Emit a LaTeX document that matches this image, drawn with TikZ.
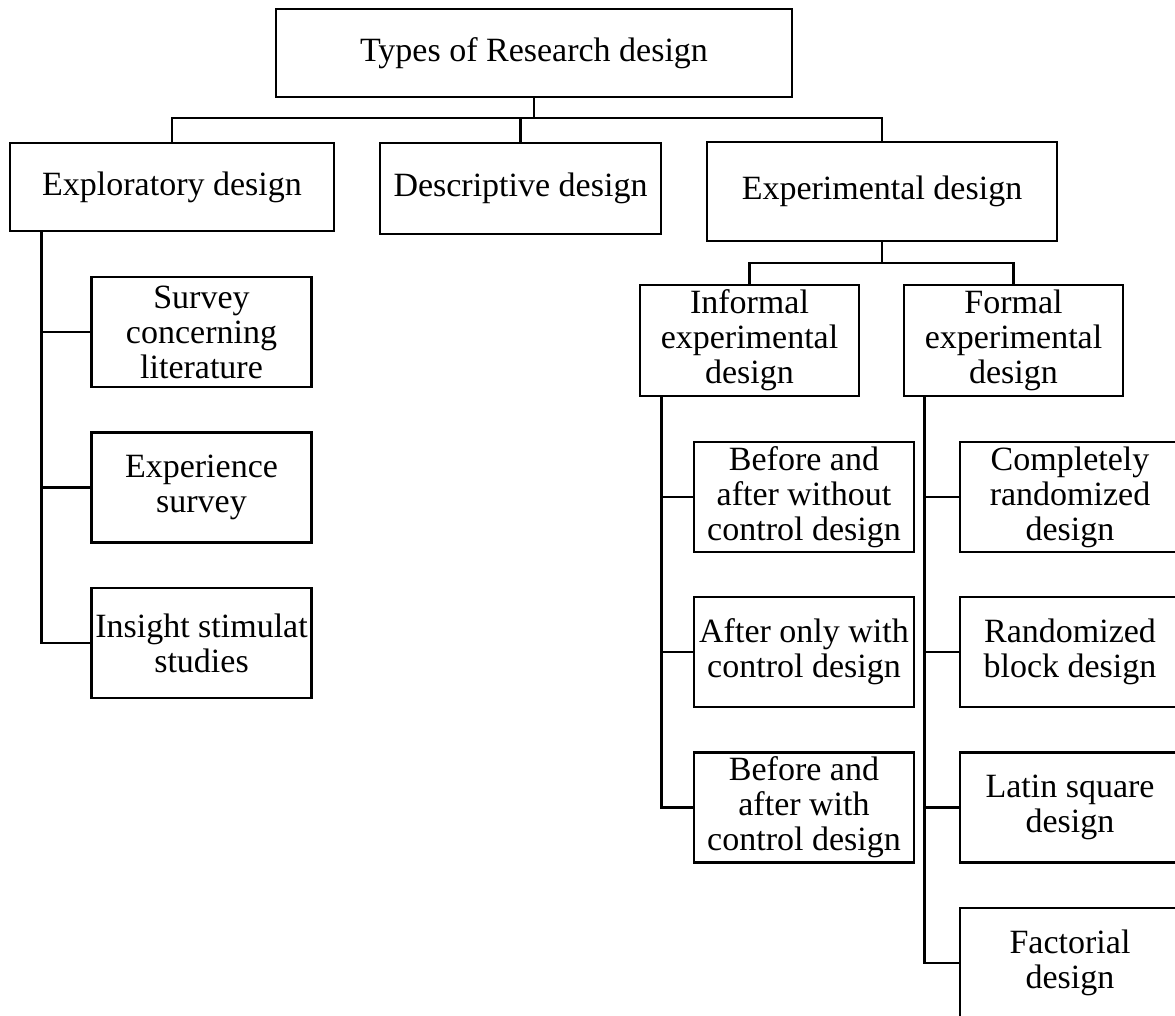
\documentclass[tikz,border=0pt]{standalone}
\usepackage{fontspec}
\setmainfont{Liberation Serif}
\tikzset{
  box/.style={draw, line width=1.3pt, align=center, inner sep=0pt,
    font=\fontsize{17}{17.5}\selectfont},
  leaf/.style={box, minimum width=110pt, minimum height=55pt},
  link/.style={line width=1.3pt}
}
\begin{document}
\begin{tikzpicture}[x=0.5pt, y=-0.5pt]
  \useasboundingbox (0,0) rectangle (1175,1016);
  % main levels
  \node[box, minimum width=258pt, minimum height=44pt] (types) at (534,53) {Types of Research design};
  \node[box, minimum width=162pt, minimum height=44pt] (explor) at (172,187) {Exploratory design};
  \node[box, minimum width=140.5pt, minimum height=45.5pt] (descr) at (520.5,188.5) {Descriptive design};
  \node[box, minimum width=175pt, minimum height=49.5pt] (exper) at (882,191.5) {Experimental design};
  \node[box, minimum width=109.5pt, minimum height=55.5pt] (informal) at (749.5,340.5) {Informal\\experimental\\design};
  \node[box, minimum width=109.5pt, minimum height=55.5pt] (formal) at (1013.5,340.5) {Formal\\experimental\\design};
  % exploratory leaves
  \node[leaf] (survey) at (201.5,332) {Survey\\concerning\\literature};
  \node[leaf] (expsurv) at (201.5,487.5) {Experience\\survey};
  \node[leaf] (insight) at (201.5,643) {Insight stimulat\\studies};
  % informal leaves
  \node[leaf] (bawo) at (804,497) {Before and\\after without\\control design};
  \node[leaf] (aowc) at (804,652) {After only with\\control design};
  \node[leaf] (bawc) at (804,807.5) {Before and\\after with\\control design};
  % formal leaves
  \node[leaf] (crd) at (1070,497) {Completely\\randomized\\design};
  \node[leaf] (rbd) at (1070,652) {Randomized\\block design};
  \node[leaf] (lsd) at (1070,807.5) {Latin square\\design};
  \node[leaf] (fact) at (1070,963) {Factorial\\design};

  % connectors
  \coordinate (bus1) at (534,118);
  \coordinate (bus2) at (882,263);
  \draw[link] (types.south) -- (bus1);
  \draw[link] (explor.north) |- (bus1) -| (exper.north);
  \draw[link] (descr.north) -- (descr.north |- bus1);
  \draw[link] (exper.south) -- (bus2);
  \draw[link] (informal.north) |- (bus2) -| (formal.north);

  \coordinate (espine) at ([xshift=16.5pt]explor.south west);
  \coordinate (ispine) at ([xshift=11.25pt]informal.south west);
  \coordinate (fspine) at ([xshift=11pt]formal.south west);
  \draw[link] (espine) |- (insight.west);
  \draw[link] (ispine) |- (bawc.west);
  \draw[link] (fspine) |- (fact.west);
  \foreach \n in {survey,expsurv}
    \draw[link] (\n.west) -- (\n.west -| espine);
  \foreach \n in {bawo,aowc}
    \draw[link] (\n.west) -- (\n.west -| ispine);
  \foreach \n in {crd,rbd,lsd}
    \draw[link] (\n.west) -- (\n.west -| fspine);
\end{tikzpicture}
\end{document}
